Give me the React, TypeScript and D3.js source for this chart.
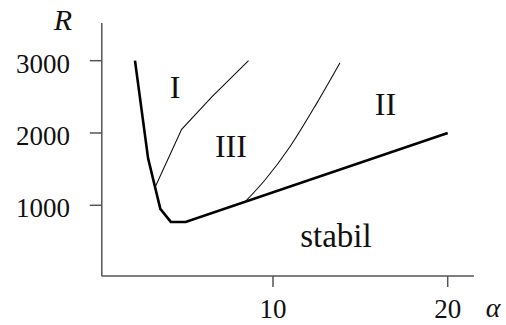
import React from "react";
import * as d3 from "d3";

// Stability boundary (thick curve)
const stableAlpha = [2.1, 2.85, 3.55, 4.15, 5.0, 20];
const stableR = [3000, 1650, 950, 770, 770, 2000];

// Boundary between regions I and III
const b13Alpha = [3.25, 4.77, 6.5, 8.6];
const b13R = [1250, 2050, 2500, 3000];

// Boundary between regions III and II
const b32Alpha = [8.41, 9.54, 10.97, 12.5, 13.83];
const b32R = [1050, 1350, 1810, 2410, 2970];

const xTicks = [10, 20];
const yTicks = [1000, 2000, 3000];

const regionNames = ["I", "III", "II", "stabil"];
const regionAlpha = [4.39, 7.59, 16.44, 13.6];
const regionR = [2480, 1664, 2249, 427];

const W = 506;
const H = 325;
const FONT = "Liberation Serif";

export default function App() {
  const x = d3.scaleLinear().domain([0, 20]).range([98.3, 447.7]);
  const y = d3.scaleLinear().domain([1000, 3000]).range([205.3, 60.7]);

  const line = d3
    .line<[number, number]>()
    .x((d) => x(d[0]))
    .y((d) => y(d[1]));
  const smooth = d3
    .line<[number, number]>()
    .x((d) => x(d[0]))
    .y((d) => y(d[1]))
    .curve(d3.curveMonotoneX);

  const zip = (a: number[], b: number[]) =>
    a.map((v, i) => [v, b[i]] as [number, number]);

  const x0 = x(0.2);
  const x1 = x(21.5);
  const yBase = y(22);
  const yTop = y(3520);
  const axisColor = "#555";
  const txt = { fontFamily: FONT };

  return (
    <svg
      width={W}
      height={H}
      style={{ position: "fixed", left: 0, top: 0, background: "#fff" }}
    >
      {/* axes */}
      <line x1={x0} y1={yBase} x2={x1} y2={yBase} stroke={axisColor} strokeWidth={1.5} />
      <line x1={x0} y1={yBase} x2={x0} y2={yTop} stroke={axisColor} strokeWidth={1.5} />

      {xTicks.map((t) => (
        <g key={"xt" + t}>
          <line x1={x(t)} x2={x(t)} y1={yBase} y2={yBase + 11} stroke={axisColor} strokeWidth={1.5} />
          <text x={x(t)} y={318} fontSize={27} textAnchor="middle" fill="#111" style={txt}>
            {t}
          </text>
        </g>
      ))}
      {yTicks.map((t) => (
        <g key={"yt" + t}>
          <line x1={x0 - 12} x2={x0} y1={y(t)} y2={y(t)} stroke={axisColor} strokeWidth={1.5} />
          <text x={70} y={y(t) + 12} fontSize={27} textAnchor="end" fill="#111" style={txt}>
            {t}
          </text>
        </g>
      ))}

      <text x={63} y={30} fontSize={30} fontStyle="italic" textAnchor="middle" fill="#111" style={txt}>
        R
      </text>
      <text x={493} y={317} fontSize={28} fontStyle="italic" textAnchor="middle" fill="#111" style={txt}>
        α
      </text>

      {/* region boundaries */}
      <path d={line(zip(b13Alpha, b13R)) || ""} fill="none" stroke="#111" strokeWidth={1.1} />
      <path d={smooth(zip(b32Alpha, b32R)) || ""} fill="none" stroke="#111" strokeWidth={1.1} />
      <path
        d={line(zip(stableAlpha, stableR)) || ""}
        fill="none"
        stroke="#000"
        strokeWidth={2.6}
        strokeLinejoin="miter"
      />

      {regionNames.map((n, i) => (
        <text
          key={n}
          x={x(regionAlpha[i])}
          y={y(regionR[i])}
          fontSize={n === "stabil" ? 33 : 32}
          textAnchor="middle"
          fill="#111"
          style={txt}
        >
          {n}
        </text>
      ))}
    </svg>
  );
}
